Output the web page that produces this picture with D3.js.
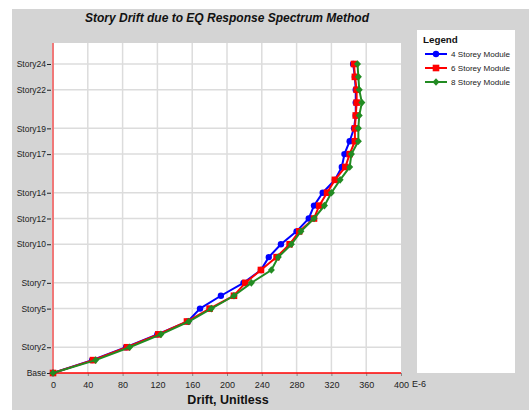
<!DOCTYPE html>
<html><head><meta charset="utf-8">
<script src="https://cdn.jsdelivr.net/npm/d3@7"></script>
<style>body{margin:0;background:#fff}svg{display:block}text{font-family:"Liberation Sans",Arial,sans-serif}</style>
</head><body><svg id="c" width="529" height="410"></svg>
<script>
const stories = d3.range(0, 25);
const storyLabels = ["Base","Story2","Story5","Story7","Story10","Story12","Story14","Story17","Story19","Story22","Story24"];
const storyLabelIdx = [0,2,5,7,10,12,14,17,19,22,24];
const xTicks = [0,40,80,120,160,200,240,280,320,360,400];
const seriesNames = ["4 Storey Module","6 Storey Module","8 Storey Module"];
const drift4 = [0,45,84,120,155,169,193,219,239,248,262,280,294,300,310,324,332,335,341,346,348,348,348,347,345];
const drift6 = [0,46,85,121,154,180,208,221,239,257,272,283,300,306,315,324,336,341,347,347,348,349,349,347,346];
const drift8 = [0,49,88,124,156,182,208,228,251,259,274,285,300,312,320,330,341,343,351,351,352,355,352,351,350];
const colors = ["#0000ff","#ff0000","#228b22"];
const markers = ["circle","square","diamond"];

const svg = d3.select("#c");
svg.append("rect").attr("x",12).attr("y",9).attr("width",517).attr("height",401).attr("fill","#d4d4d4");
const L=53,R=401,T=43,B=373;
svg.append("rect").attr("x",L).attr("y",T).attr("width",R-L).attr("height",B-T).attr("fill","#fff");
const x = d3.scaleLinear().domain([0,400]).range([L,R]);
const y = d3.scaleLinear().domain([0,25.63]).range([B,T]);

// grid
svg.append("g").selectAll("line").data(xTicks.slice(1,-1)).join("line")
 .attr("x1",d=>x(d)).attr("x2",d=>x(d)).attr("y1",T).attr("y2",B).attr("stroke","#dcdcdc").attr("stroke-width",1.5);
svg.append("g").selectAll("line").data(storyLabelIdx.slice(1)).join("line")
 .attr("x1",L).attr("x2",R).attr("y1",d=>y(d)).attr("y2",d=>y(d)).attr("stroke","#dcdcdc").attr("stroke-width",1.5);

// axes
const xa = svg.append("g").attr("transform",`translate(0,${B})`)
 .call(d3.axisBottom(x).tickValues(xTicks).tickSize(3).tickPadding(6));
xa.select(".domain").remove();
xa.selectAll("line").attr("stroke","#888");
xa.selectAll("text").attr("font-size",9).attr("fill","#222");
const ya = svg.append("g").attr("transform",`translate(${L},0)`)
 .call(d3.axisLeft(y).tickValues(storyLabelIdx).tickFormat((d,i)=>storyLabels[i]).tickSize(4).tickPadding(3));
ya.select(".domain").remove();
ya.selectAll("line").attr("stroke","#222").attr("transform","translate(-2,0)");
ya.selectAll("text").attr("font-size",8.5).attr("fill","#222");
svg.append("line").attr("x1",L).attr("x2",L).attr("y1",T).attr("y2",B).attr("stroke","#f07878").attr("stroke-width",2);
svg.append("line").attr("x1",L).attr("x2",R).attr("y1",B).attr("y2",B).attr("stroke","#ff0000").attr("stroke-width",1.5);
svg.append("text").attr("x",x(400)+11).attr("y",B+14).attr("font-size",9).attr("fill","#222").text("E-6");

// series
const data=[drift4,drift6,drift8];
const line = d3.line().x(d=>x(d[0])).y(d=>y(d[1]));
function marker(g,type,cx,cy,c){
 if(type==="circle") g.append("circle").attr("cx",cx).attr("cy",cy).attr("r",3.2).attr("fill",c);
 else if(type==="square") g.append("rect").attr("x",cx-3.3).attr("y",cy-3.3).attr("width",6.6).attr("height",6.6).attr("fill",c);
 else g.append("path").attr("d",`M${cx},${cy-3.8}L${cx+3.5},${cy}L${cx},${cy+3.8}L${cx-3.5},${cy}Z`).attr("fill",c);
}
data.forEach((s,k)=>{
 const pts = s.map((v,i)=>[v,stories[i]]);
 const g = svg.append("g");
 g.append("path").attr("d",line(pts)).attr("fill","none").attr("stroke",colors[k]).attr("stroke-width",2);
 pts.forEach(p=>marker(g,markers[k],x(p[0]),y(p[1]),colors[k]));
});

// title
svg.append("text").attr("x",227).attr("y",22).attr("text-anchor","middle").attr("font-size",12)
 .attr("font-weight","bold").attr("font-style","italic").attr("fill","#111").text("Story Drift due to EQ Response Spectrum Method");
svg.append("text").attr("x",228).attr("y",404).attr("text-anchor","middle").attr("font-size",12.5)
 .attr("font-weight","bold").attr("fill","#111").text("Drift, Unitless");

// legend
svg.append("rect").attr("x",417).attr("y",30).attr("width",98).attr("height",343).attr("fill","#fff");
svg.append("text").attr("x",423).attr("y",43).attr("font-size",9.8).attr("font-weight","bold").attr("fill","#111").text("Legend");
seriesNames.forEach((n,k)=>{
 const ly=54+k*14;
 const g=svg.append("g");
 g.append("line").attr("x1",425).attr("x2",447).attr("y1",ly).attr("y2",ly).attr("stroke",colors[k]).attr("stroke-width",2);
 marker(g,markers[k],436,ly,colors[k]);
 g.append("text").attr("x",451).attr("y",ly+3).attr("font-size",8.1).attr("fill","#222").text(n);
});
</script></body></html>
